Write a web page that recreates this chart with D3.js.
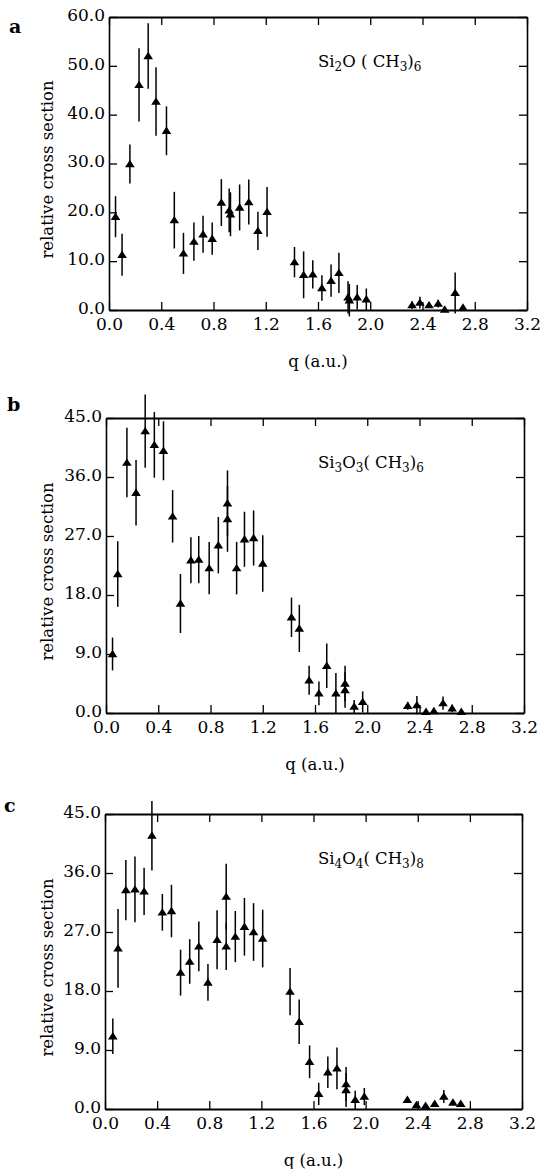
<!DOCTYPE html>
<html>
<head>
<meta charset="utf-8">
<script src="https://cdn.jsdelivr.net/npm/d3@7"></script>
<style>
  body { margin: 0; background: #fff; }
  svg { display: block; }
  text { font-family: "DejaVu Serif", serif; fill: #000; }
</style>
</head>
<body>
<svg id="chart" width="541" height="1169"></svg>
<script>
// ---- data ----
const qA = [0.05, 0.10, 0.16, 0.23, 0.30, 0.36, 0.44, 0.50, 0.57, 0.65, 0.72, 0.79, 0.86, 0.92, 0.93, 1.00, 1.07, 1.14, 1.21,
  1.42, 1.49, 1.56, 1.63, 1.70, 1.76, 1.83, 1.84, 1.90, 1.97, 2.32, 2.38, 2.45, 2.52, 2.57, 2.65, 2.71];
const valA = [19.1, 11.3, 29.9, 46.1, 52.0, 42.7, 36.7, 18.4, 11.6, 14.0, 15.5, 14.6, 22.0, 20.4, 19.6, 21.0, 22.1, 16.2, 20.1,
  9.8, 7.2, 7.3, 4.5, 6.0, 7.6, 2.6, 2.0, 2.6, 2.2, 1.0, 1.5, 1.0, 1.3, 0.1, 3.5, 0.5];
const errA = [4.2, 4.3, 4.0, 7.5, 6.7, 7.0, 5.0, 5.8, 4.2, 3.9, 3.8, 3.3, 4.8, 4.5, 4.5, 4.7, 4.6, 3.9, 5.1,
  3.1, 4.8, 2.9, 2.6, 3.3, 4.1, 3.3, 3.3, 2.5, 2.2, 0.8, 1.2, 0.6, 0.8, 0.3, 4.2, 0.5];

const qB = [0.05, 0.09, 0.16, 0.23, 0.30, 0.37, 0.44, 0.51, 0.57, 0.65, 0.71, 0.79, 0.86, 0.93, 0.93, 1.00, 1.06, 1.13, 1.20,
  1.42, 1.48, 1.555, 1.63, 1.69, 1.76, 1.83, 1.83, 1.90, 1.965, 2.31, 2.38, 2.45, 2.51, 2.58, 2.65, 2.72];
const valB = [9.0, 21.2, 38.2, 33.6, 43.0, 40.9, 40.0, 30.0, 16.7, 23.3, 23.4, 22.1, 25.6, 32.0, 29.6, 22.1, 26.5, 26.7, 22.8,
  14.6, 12.9, 5.0, 3.0, 7.2, 3.0, 4.5, 3.5, 1.0, 1.7, 1.1, 1.2, 0.2, 0.3, 1.5, 0.7, 0.2];
const errB = [2.5, 5.0, 5.3, 5.0, 5.6, 5.0, 4.5, 4.0, 4.5, 3.5, 3.6, 4.0, 4.3, 5.0, 5.0, 4.0, 4.2, 4.2, 4.3,
  3.0, 3.6, 2.2, 1.8, 3.4, 3.1, 2.7, 2.7, 1.0, 1.6, 0.6, 1.4, 0.3, 0.3, 1.0, 0.6, 0.2];

const qC = [0.06, 0.10, 0.16, 0.23, 0.30, 0.36, 0.44, 0.51, 0.58, 0.65, 0.72, 0.79, 0.86, 0.93, 0.93, 1.00, 1.07, 1.14, 1.21,
  1.42, 1.49, 1.57, 1.64, 1.71, 1.78, 1.85, 1.85, 1.92, 1.99, 2.32, 2.39, 2.46, 2.53, 2.60, 2.67, 2.73];
const valC = [11.1, 24.5, 33.4, 33.5, 33.2, 41.7, 30.0, 30.2, 20.8, 22.5, 24.8, 19.3, 25.8, 32.4, 24.8, 26.3, 27.8, 27.0, 26.0,
  17.9, 13.3, 7.2, 2.3, 5.6, 6.2, 3.8, 2.9, 1.4, 1.9, 1.4, 0.6, 0.5, 0.8, 1.9, 1.0, 0.8];
const errC = [2.7, 6.0, 4.6, 5.0, 3.6, 5.3, 2.8, 4.0, 3.5, 3.4, 3.8, 2.8, 4.5, 5.0, 3.6, 3.9, 4.4, 4.4, 4.4,
  3.6, 3.4, 2.5, 1.7, 2.4, 3.2, 2.6, 2.6, 1.4, 1.3, 0.4, 0.3, 0.3, 0.3, 1.0, 0.4, 0.3];

const xTicks = [0.0, 0.4, 0.8, 1.2, 1.6, 2.0, 2.4, 2.8, 3.2];
const yTicksA = [0, 10, 20, 30, 40, 50, 60];
const yTicks45 = [0, 9, 18, 27, 36, 45];

// formula parts: [text, isSubscript]
const labelA = [["Si", 0], ["2", 1], ["O  ( CH", 0], ["3", 1], [")", 0], ["6", 1]];
const labelB = [["Si", 0], ["3", 1], ["O", 0], ["3", 1], ["( CH", 0], ["3", 1], [")", 0], ["6", 1]];
const labelC = [["Si", 0], ["4", 1], ["O", 0], ["4", 1], ["( CH", 0], ["3", 1], [")", 0], ["8", 1]];

//////////////////////
// panel placement  //
//////////////////////
const panels = [
  { letter: "a", q: qA, v: valA, e: errA, yMax: 60, yTicks: yTicksA, formula: labelA,
    left: 109, right: 527, top: 17, bottom: 310, letterX: 9, letterY: 33 },
  { letter: "b", q: qB, v: valB, e: errB, yMax: 45, yTicks: yTicks45, formula: labelB,
    left: 106, right: 524, top: 418, bottom: 713, letterX: 7, letterY: 411 },
  { letter: "c", q: qC, v: valC, e: errC, yMax: 45, yTicks: yTicks45, formula: labelC,
    left: 105, right: 522, top: 814, bottom: 1109, letterX: 4, letterY: 812 },
];

const svg = d3.select("#chart");
const fmt = d3.format(".1f");
const tick = 8;

// triangle marker, centred on the point
const tri = "M-4.8,3.2L0,-4.2L4.8,3.2Z";

panels.forEach((p) => {
  const x = d3.scaleLinear().domain([0, 3.2]).range([p.left, p.right]);
  const y = d3.scaleLinear().domain([0, p.yMax]).range([p.bottom, p.top]);
  const g = svg.append("g");

  // bottom axis with labels
  g.append("g")
    .attr("transform", `translate(0,${p.bottom})`)
    .call(d3.axisBottom(x).tickValues(xTicks).tickFormat(fmt).tickSizeInner(-tick).tickSizeOuter(0).tickPadding(8))
    .call((a) => a.select(".domain").attr("stroke-width", 2));
  // top axis
  g.append("g")
    .attr("transform", `translate(0,${p.top})`)
    .call(d3.axisTop(x).tickValues(xTicks).tickFormat("").tickSizeInner(-tick).tickSizeOuter(0))
    .call((a) => a.select(".domain").attr("stroke-width", 2));
  // left axis with labels
  g.append("g")
    .attr("transform", `translate(${p.left},0)`)
    .call(d3.axisLeft(y).tickValues(p.yTicks).tickFormat(fmt).tickSizeInner(-tick).tickSizeOuter(0).tickPadding(4))
    .call((a) => a.select(".domain").attr("stroke-width", 1.6))
    .call((a) => a.selectAll(".tick text").attr("dy", "0.2em"));
  // right axis
  g.append("g")
    .attr("transform", `translate(${p.right},0)`)
    .call(d3.axisRight(y).tickValues(p.yTicks).tickFormat("").tickSizeInner(-tick).tickSizeOuter(0))
    .call((a) => a.select(".domain").attr("stroke-width", 1.6));

  g.selectAll(".tick line").attr("stroke-width", 1.3);
  g.selectAll(".tick text")
    .attr("font-family", "DejaVu Serif")
    .attr("font-size", 17)
    .attr("fill", "#000");
  g.selectAll(".domain").attr("stroke", "#000");

  // axis titles
  g.append("text")
    .attr("x", (p.left + p.right) / 2)
    .attr("y", p.bottom + 57)
    .attr("text-anchor", "middle")
    .attr("font-size", 16.5)
    .text("q (a.u.)");
  g.append("text")
    .attr("transform", `translate(${53},${(p.top + p.bottom) / 2 + 6}) rotate(-90)`)
    .attr("text-anchor", "middle")
    .attr("font-size", 16.5)
    .text("relative cross section");

  // panel letter
  g.append("text")
    .attr("x", p.letterX)
    .attr("y", p.letterY)
    .attr("font-size", 19)
    .attr("font-weight", "bold")
    .text(p.letter);

  // formula
  const f = g.append("text")
    .attr("x", 318)
    .attr("y", p.top + 50)
    .attr("font-size", 16.5);
  p.formula.forEach(([t, sub]) => {
    f.append("tspan")
      .attr("font-size", sub ? 12 : 16.5)
      .attr("baseline-shift", sub ? "-4" : "0")
      .text(t);
  });

  // data
  const data = p.q.map((q, i) => ({ q, v: p.v[i], e: p.e[i] }));

  g.append("g")
    .selectAll("line")
    .data(data)
    .join("line")
    .attr("x1", (d) => x(d.q))
    .attr("x2", (d) => x(d.q))
    .attr("y1", (d) => y(d.v + d.e))
    .attr("y2", (d) => y(d.v - d.e))
    .attr("stroke", "#000")
    .attr("stroke-width", 1.5);

  g.append("g")
    .selectAll("path")
    .data(data)
    .join("path")
    .attr("d", tri)
    .attr("transform", (d) => `translate(${x(d.q)},${y(d.v)})`)
    .attr("fill", "#000");
});
</script>
</body>
</html>
